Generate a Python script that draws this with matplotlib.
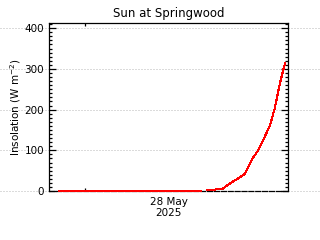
import matplotlib
matplotlib.use("Agg")
import matplotlib.pyplot as plt
import numpy as np

# hours since start of the plotted window
hours = [0.33, 5.08, np.nan, 5.29, 5.56, 5.59, 5.82, 5.89, 6.09, 6.33, 6.56,
         6.66, 6.78, 7.0, 7.2, 7.4, 7.56, 7.73, 7.9]
insolation = [-1, -1, np.nan, 3, 3, 6, 6, 10, 20, 31, 42,
              58, 76, 100, 130, 162, 204, 265, 314]

y_ticks = [0, 100, 200, 300, 400]
date_label = "28 May\n2025"
title = "Sun at Springwood"
ylabel = "Insolation (W m$^{-2}$)"

W, H = 320, 240
fig = plt.figure(figsize=(W / 100, H / 100), dpi=100)
l, r, t, b = 49, 288, 23.3, 191
ax = fig.add_axes([l / W, 1 - b / H, (r - l) / W, (b - t) / H])

ax.plot(hours, insolation, color="#ff0000", lw=0.75, antialiased=False,
        clip_on=False, zorder=5)

ax.set_xlim(0, 8)
ax.set_ylim(0, 412)

# dotted grid running across the whole figure
for y in y_ticks:
    ax.axhline(y, xmin=-l / (r - l), xmax=(W - l) / (r - l), color="#b8b8b8",
               lw=0.72, ls=(0, (1, 2)), clip_on=False, zorder=0)

for s in ax.spines.values():
    s.set_linewidth(0.9)
    s.set_color("black")
ax.spines["bottom"].set_linestyle((0, (4, 1.5)))

ax.set_yticks(y_ticks)
ax.set_yticks(np.arange(0, 411, 10), minor=True)
ax.tick_params(axis="y", which="major", direction="in", length=5, width=0.9,
               left=True, right=True, labelsize=7.5, pad=3.4)
ax.tick_params(axis="y", which="minor", direction="in", length=2.5, width=0.9,
               left=True, right=True)

ax.set_xticks([4.0])
ax.set_xticklabels([date_label])
ax.set_xticks([1.2], minor=True)
ax.tick_params(axis="x", which="major", length=0, labelsize=7.5, pad=4.5)
ax.tick_params(axis="x", which="minor", direction="in", length=2.5, width=0.9,
               top=True, bottom=True)
for lab in ax.get_xticklabels():
    lab.set_linespacing(1.05)

fig.text(168.5 / W, 1 - 14 / H, title, ha="center", va="center", fontsize=8.5)
fig.text(15.5 / W, 1 - 107 / H, ylabel, ha="center", va="center",
         rotation=90, fontsize=7.5)

fig.savefig("out.png", dpi=100)
